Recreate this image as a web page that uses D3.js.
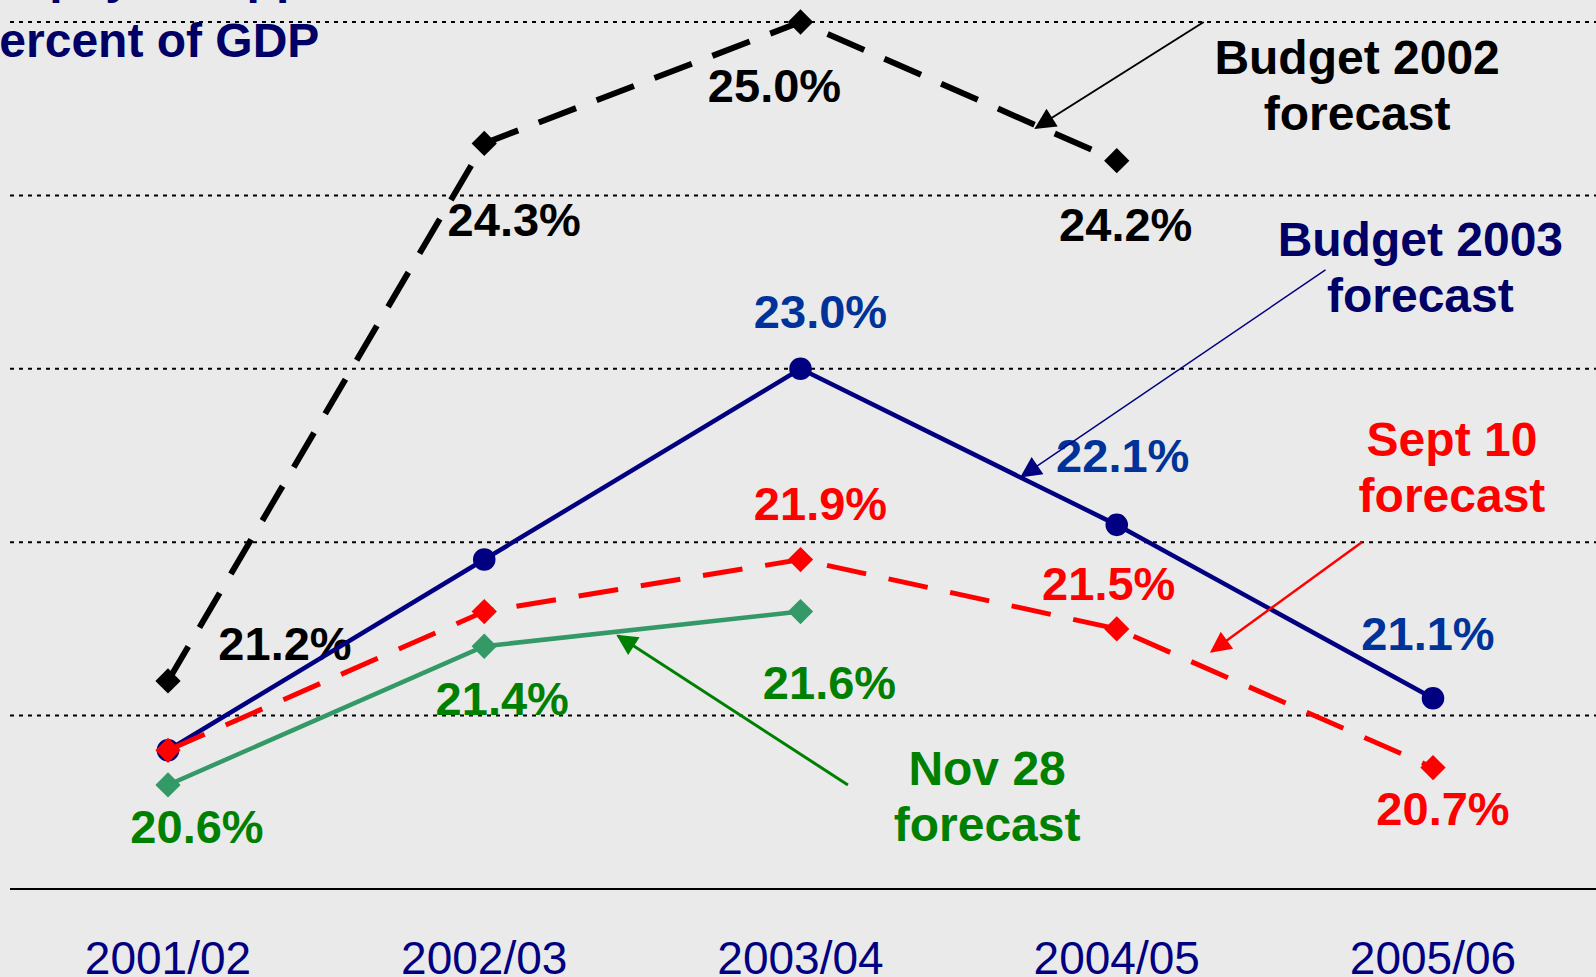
<!DOCTYPE html>
<html>
<head>
<meta charset="utf-8">
<script src="https://cdn.jsdelivr.net/npm/d3@7"></script>
<style>
  html, body { margin: 0; padding: 0; background: #eaeaea; overflow: hidden; }
  svg { display: block; font-family: "Liberation Sans", Arial, sans-serif; }
</style>
</head>
<body>
<svg id="chart" width="1596" height="977"></svg>
<script>
// === Datos ===
const years = ['2001/02', '2002/03', '2003/04', '2004/05', '2005/06'];
const budget2002 = [21.2, 24.3, 25.0, 24.2, null];
const budget2003 = [20.8, 21.9, 23.0, 22.1, 21.1];
const sept10 = [20.8, 21.6, 21.9, 21.5, 20.7];
const nov28 = [20.6, 21.4, 21.6, null, null];
const gridValues = [21, 22, 23, 24, 25];
const titleLines = ['Taxpayer support as a', 'percent of GDP'];
const seriesNames = [['Budget 2002', 'forecast'], ['Budget 2003', 'forecast'], ['Sept 10', 'forecast'], ['Nov 28', 'forecast']];

// === Escalas ===
const W = 1596, H = 977;
const x = d3.scalePoint().domain(years).range([168, 1433]);
const xi = d3.scaleLinear().domain([0, years.length - 1]).range(x.range()); // posiciones fraccionarias
const y = d3.scaleLinear().domain([20, 25]).range([889, 22]);

const svg = d3.select('#chart');
svg.append('rect').attr('width', W).attr('height', H).attr('fill', '#eaeaea');

// estilos de cada serie (etiquetas: [índice, dx, dy])
const series = [
  { values: budget2002, line: '#000', width: 6, dash: '40,22', marker: 'diamond', mcolor: '#000', label: '#000',
    labels: [[0, 117, -21], [1, 30, 93], [2, -26, 80], [3, 9, 80]] },
  { values: budget2003, line: '#000080', width: 4.5, dash: null, marker: 'circle', mcolor: '#000080', label: '#003399',
    labels: [[2, 20, -41], [3, 6, -53], [4, -5, -48]] },
  { values: sept10, line: '#ff0000', width: 5, dash: '40,23', marker: 'diamond', mcolor: '#ff0000', label: '#ff0000',
    labels: [[2, 20, -40], [3, -8, -29], [4, 10, 57]] },
  { values: nov28, line: '#339966', width: 4.5, dash: null, marker: 'diamond', mcolor: '#339966', label: '#008000',
    labels: [[0, 29, 58], [1, 18, 69], [2, 29, 87]] }
];

// anotaciones (en unidades de datos: índice de año, valor %)
const notes = [
  { text: seriesNames[0], color: '#000', at: [3.76, 24.7], from: [3.275, 25.0], to: [2.745, 24.39], arrow: '#000', aw: 2 },
  { text: seriesNames[1], color: '#000066', at: [3.96, 23.65], from: [3.66, 23.57], to: [2.7, 22.38], arrow: '#000080', aw: 1.5 },
  { text: seriesNames[2], color: '#ff0000', at: [4.06, 22.5], from: [3.775, 22.0], to: [3.3, 21.37], arrow: '#ff0000', aw: 2.5 },
  { text: seriesNames[3], color: '#008000', at: [2.59, 20.6], from: [2.15, 20.6], to: [1.423, 21.46], arrow: '#008000', aw: 3 }
];

// === Cuadrícula y eje ===
svg.append('g').selectAll('line').data(gridValues).join('line')
  .attr('x1', 10).attr('x2', W).attr('y1', d => y(d)).attr('y2', d => y(d))
  .attr('stroke', '#000').attr('stroke-width', 2).attr('stroke-dasharray', '4,5');

svg.append('line').attr('x1', 10).attr('x2', W).attr('y1', y(20)).attr('y2', y(20))
  .attr('stroke', '#000').attr('stroke-width', 2);

svg.append('g').selectAll('text').data(years).join('text')
  .attr('x', d => x(d)).attr('y', 974).attr('text-anchor', 'middle')
  .attr('font-size', 46).attr('fill', '#000080').text(d => d);

// === Título (recortado arriba a la izquierda) ===
svg.append('g').selectAll('text').data(titleLines).join('text')
  .attr('x', -30).attr('y', (d, i) => i === 0 ? -7 : 57)
  .attr('font-size', 48).attr('font-weight', 'bold').attr('fill', '#000066').text(d => d);

// === Etiquetas de valores ===
series.forEach(s => {
  svg.append('g').selectAll('text').data(s.labels).join('text')
    .attr('x', d => x(years[d[0]]) + d[1]).attr('y', d => y(s.values[d[0]]) + d[2])
    .attr('text-anchor', 'middle').attr('font-size', 47).attr('font-weight', 'bold')
    .attr('fill', s.label).text(d => s.values[d[0]].toFixed(1) + '%');
});

// === Líneas y marcadores ===
const line = d3.line().defined(d => d.v != null).x(d => x(d.year)).y(d => y(d.v));
series.forEach(s => {
  const pts = years.map((yr, i) => ({ year: yr, v: s.values[i] }));
  svg.append('path').datum(pts).attr('d', line).attr('fill', 'none')
    .attr('stroke', s.line).attr('stroke-width', s.width)
    .attr('stroke-dasharray', s.dash).attr('stroke-linejoin', 'miter');
  const valid = pts.filter(d => d.v != null);
  const sym = d3.symbol().type(s.marker === 'circle' ? d3.symbolCircle : d3.symbolSquare).size(s.marker === 'circle' ? 400 : 320);
  svg.append('g').selectAll('path').data(valid).join('path')
    .attr('d', sym)
    .attr('transform', d => `translate(${x(d.year)},${y(d.v)})` + (s.marker === 'circle' ? '' : ' rotate(45)'))
    .attr('fill', s.mcolor);
});

// === Flechas y textos de anotación ===
const defs = svg.append('defs');
notes.forEach((n, i) => {
  defs.append('marker').attr('id', 'arr' + i)
    .attr('viewBox', '0 0 10 10').attr('refX', 9).attr('refY', 5)
    .attr('markerUnits', 'userSpaceOnUse').attr('markerWidth', 27).attr('markerHeight', 21)
    .attr('orient', 'auto')
    .append('path').attr('d', 'M0,0 L10,5 L0,10 Z').attr('fill', n.arrow);
  svg.append('line')
    .attr('x1', xi(n.from[0])).attr('y1', y(n.from[1]))
    .attr('x2', xi(n.to[0])).attr('y2', y(n.to[1]))
    .attr('stroke', n.arrow).attr('stroke-width', n.aw).attr('marker-end', `url(#arr${i})`);
  svg.append('g').selectAll('text').data(n.text).join('text')
    .attr('x', xi(n.at[0])).attr('y', (d, j) => y(n.at[1]) + j * 56)
    .attr('text-anchor', 'middle').attr('font-size', 48).attr('font-weight', 'bold')
    .attr('fill', n.color).text(d => d);
});
</script>
</body>
</html>
